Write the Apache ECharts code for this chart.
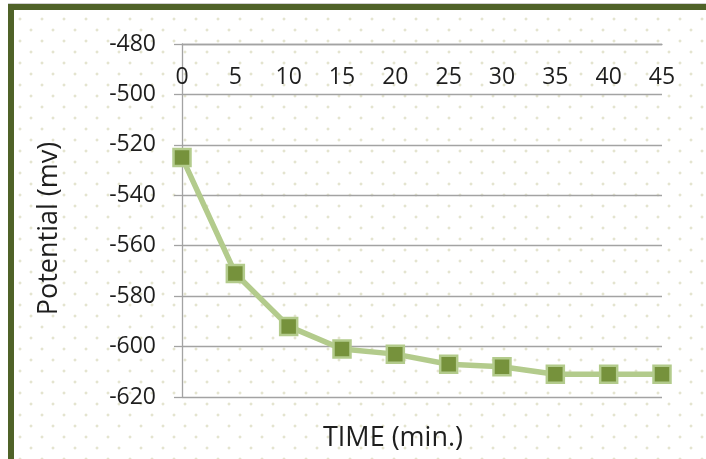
<!DOCTYPE html>
<html>
<head>
<meta charset="utf-8">
<script src="https://cdn.jsdelivr.net/npm/echarts@6/dist/echarts.min.js"></script>
<style>
  html, body { margin: 0; padding: 0; background: #ffffff; }
  #page { position: relative; width: 706px; height: 459px; overflow: hidden; background: #ffffff; }
  /* dark green frame with a light dotted fill */
  #frame {
    position: absolute; left: 8px; top: 4px; width: 720px; height: 453px;
    border-left: 6px solid #4f6228; border-top: 6px solid #4f6228;
    border-bottom: 1px solid #dedede;
    box-shadow: 0 -1px 0 #d0d0d0;
    background-color: #ffffff;
    background-image:
      radial-gradient(circle, #e4e4cf 1.3px, transparent 1.7px),
      radial-gradient(circle, #e4e4cf 1.3px, transparent 1.7px);
    background-size: 22px 22px, 22px 22px;
    background-position: 6px 9px, 17px 20px;
  }
  #chart { position: absolute; left: 0; top: 0; width: 706px; height: 459px; }
</style>
</head>
<body>
<div id="page">
  <div id="frame"></div>
  <div id="chart"></div>
</div>
<script>
// Electrode potential over time
const timeMin = [0, 5, 10, 15, 20, 25, 30, 35, 40, 45];
const potentialMv = [-525, -571, -592, -601, -603, -607, -608, -611, -611, -611];
const yTicks = [-480, -500, -520, -540, -560, -580, -600, -620];

const chart = echarts.init(document.getElementById('chart'), null, { renderer: 'canvas' });
const FONT = '"Open Sans", Lato, sans-serif';
const TEXT = '#1e1e1e';
const GRID_GRAY = '#a3a3a3';

chart.setOption({
  backgroundColor: 'transparent',
  animation: false,
  title: {
    text: 'TIME (min.)',
    left: 388,
    top: 420,
    textAlign: 'center',
    textStyle: { fontFamily: FONT, fontSize: 27, fontWeight: 'normal', color: TEXT }
  },
  grid: { left: 182, right: 44, top: 44, bottom: 62 },
  xAxis: {
    type: 'value',
    position: 'top',
    min: 0,
    max: 45,
    interval: 5,
    axisLine: { show: true, onZero: false, lineStyle: { color: GRID_GRAY, width: 1.3 } },
    axisTick: { show: false },
    splitLine: { show: false },
    axisLabel: {
      inside: true,
      margin: 22,
      fontFamily: FONT,
      fontSize: 23,
      color: TEXT
    }
  },
  yAxis: {
    type: 'value',
    min: yTicks[yTicks.length - 1],
    max: yTicks[0],
    interval: 20,
    name: 'Potential (mv)',
    nameLocation: 'middle',
    nameRotate: 90,
    nameGap: 119,
    nameTextStyle: { fontFamily: FONT, fontSize: 27, color: TEXT, padding: [0, 16, 0, 0] },
    axisLine: { show: true, onZero: false, lineStyle: { color: GRID_GRAY, width: 1.3 } },
    axisTick: { show: true, length: 8, lineStyle: { color: GRID_GRAY, width: 1.3 } },
    splitLine: { show: true, lineStyle: { color: GRID_GRAY, width: 1.3 } },
    axisLabel: {
      margin: 26,
      fontFamily: FONT,
      fontSize: 23,
      color: TEXT,
      customValues: yTicks
    }
  },
  series: [{
    type: 'line',
    data: timeMin.map((t, i) => [t, potentialMv[i]]),
    symbol: 'rect',
    symbolSize: 17,
    lineStyle: { color: '#b3cb8c', width: 5.5 },
    itemStyle: { color: '#76923c', borderColor: '#b3cb8c', borderWidth: 2.5 },
    z: 3
  }]
});
</script>
</body>
</html>
